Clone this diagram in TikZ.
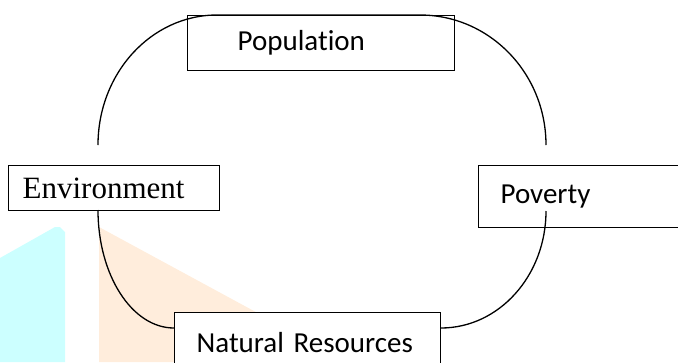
\documentclass[tikz,border=0pt]{standalone}
\usepackage{fontspec}
\setmainfont{Carlito}[Ligatures=NoCommon]
\newfontfamily\timesfont{Liberation Serif}
\usepackage{tikz}
\definecolor{wmcyan}{RGB}{204,255,255}
\definecolor{wmorange}{RGB}{255,237,220}
\tikzset{
  box/.style={draw, line width=1.3pt, fill=white, anchor=north west,
    inner ysep=0pt, align=left, font=\fontsize{29}{31}\selectfont},
  link/.style={line width=1.3pt},
}

\begin{document}
\begin{tikzpicture}[x=1pt,y=-1pt]
  \useasboundingbox (0,0) rectangle (678,362);

  % faint marks behind the cycle
  \fill[wmcyan] (0,258) -- (55,227) -- (60,227) -- (65,232) -- (65,362) -- (0,362) -- cycle;
  \fill[wmorange] (99,227) -- (348,362) -- (99,362) -- cycle;

  \node[box, inner xsep=50pt, text width=167pt, minimum height=55pt] (pop) at (187,15) {Population};
  \node[box, inner xsep=14pt, text width=183pt, minimum height=45pt,
        font=\timesfont\fontsize{31}{33}\selectfont] (env) at (8,165) {Environment};
  \node[box, inner xsep=22pt, text width=168pt, minimum height=62pt] (pov) at (478,165) {Poverty};
  \node[box, inner xsep=22pt, text width=222pt, minimum height=60pt] (nat) at (174,312) {Natural Resources};

  \coordinate (A) at (98,145);   % over environment
  \coordinate (B) at (98,210);   % under environment
  \coordinate (C) at (546,211);  % inside poverty

  % the cycle
  \draw[link] (A) arc[start angle=180, end angle=270, x radius=119, y radius=130]
    -- ++(203,0) arc[start angle=270, end angle=360, x radius=126, y radius=130];
  \draw[link] (B) arc[start angle=180, end angle=90, x radius=76, y radius=118];
  \draw[link] (C) arc[start angle=0, end angle=90, x radius=105, y radius=117];
\end{tikzpicture}
\end{document}
